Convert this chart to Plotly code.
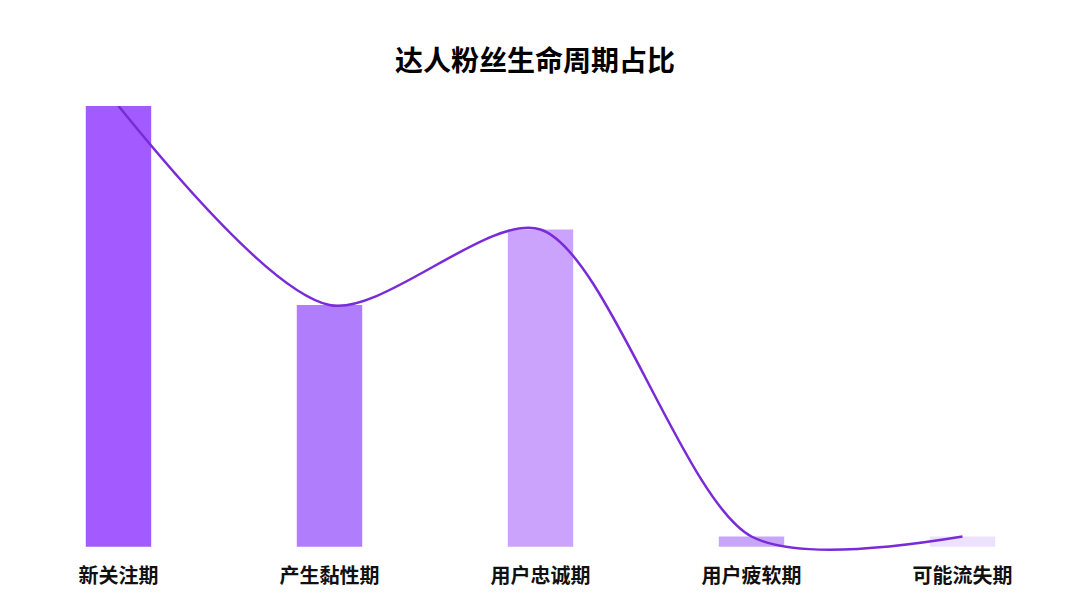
import plotly.graph_objects as go

categories = ['新关注期', '产生黏性期', '用户忠诚期', '用户疲软期', '可能流失期']
share = [43.2, 23.7, 31.1, 1.0, 1.0]
bar_colors = ['#A35BFF', '#B07DFC', '#CBA3FD', '#C8A6F7', '#EDE2FE']

fig = go.Figure()
fig.add_trace(go.Bar(x=categories, y=share, marker_color=bar_colors,
                     marker_line_width=0, showlegend=False))
fig.add_trace(go.Scatter(x=categories, y=share, mode='lines',
                         line=dict(color='#7A2BD8', width=2.5, shape='spline', smoothing=0.8),
                         showlegend=False))

fig.update_layout(
    width=1080, height=608,
    paper_bgcolor='white', plot_bgcolor='white',
    margin=dict(l=5, r=20, t=98, b=54),
    bargap=0.69,
    title=dict(text='<b>达人粉丝生命周期占比</b>', x=0.488, xanchor='center', y=0.913, yanchor='middle',
               font=dict(family='Noto Sans CJK SC', size=28, color='#000000')),
    font=dict(family='Noto Sans CJK SC', size=20, color='#111111'),
)
fig.update_xaxes(showgrid=False, showline=False, zeroline=False, ticks='',
                 tickvals=categories, ticktext=['<b>' + c + '</b>' for c in categories],
                 tickfont=dict(size=20, color='#111111'))
# small negative floor so the spline's dip near the last two bars stays visible
fig.update_yaxes(visible=False, range=[-1.5, max(share)], showgrid=False)

fig.write_html("out.html")
